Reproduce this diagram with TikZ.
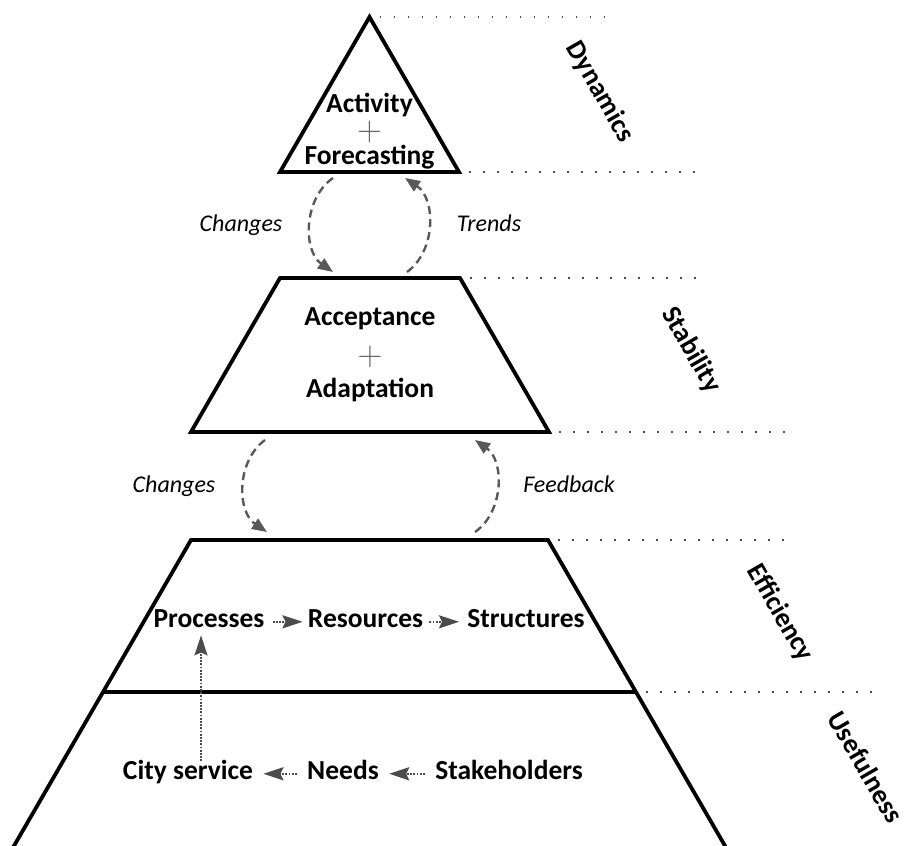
\documentclass[tikz,border=0pt]{standalone}
\usepackage{fontspec}
\setmainfont{Carlito}
\usetikzlibrary{arrows.meta}

\tikzset{
  layer/.style={line width=1.9pt, line join=miter},
  term/.style={font=\bfseries\fontsize{13.75}{16}\selectfont, anchor=base, inner sep=0pt,
    text height=0.72em, text depth=0.2em},
  plus/.style={text=black!60, font=\fontsize{16}{18}\selectfont},
  flowlabel/.style={font=\itshape\fontsize{12}{14}\selectfont, anchor=base, inner sep=0pt},
  level/.style={font=\bfseries\fontsize{13.75}{16}\selectfont, rotate=-60},
  guide/.style={black!70, line width=0.9pt, dash pattern=on 0.9pt off 6.1pt},
  turn/.style={black!65, line width=1.2pt, dash pattern=on 4pt off 2.5pt,
    -{Triangle[length=7.5pt,width=6pt]}},
  link/.style={black!70, line width=1.2pt, dash pattern=on 0.9pt off 0.7pt,
    -{Stealth[length=10pt,width=6.5pt,inset=1.5pt]}}
}

\begin{document}
\begin{tikzpicture}[x=0.5pt,y=-0.5pt]
\clip (0,0) rectangle (905,846);

% Layers of the pyramid
\draw[layer] (369.5,17) -- (459,172) -- (280,172) -- cycle;
\draw[layer] (280,278) -- (460,278) -- (549,432) -- (191,432) -- cycle;
\draw[layer] (11.6,850) -- (191,540) -- (548,540) -- (727.4,850);
\draw[line width=1.6pt] (103,692) -- (636,692);

% Dotted guides to the level names
\foreach \x/\y in {369.5/17,459/172,460/278,549/432,548/540,636/692} {
    \draw[guide] (\x+10,\y) -- ++(230,0);
}

% Level names
\node[level] (dyn) at (600,92) {Dynamics};
\node[level] (stab) at (691,350) {Stability};
\node[level] (eff) at (780,613) {Efficiency};
\node[level] (use) at (866,767) {Usefulness};

% Top layer
\node[term] (act) at (369.5,112) {Activity};
\node[plus] (p1) at (369.5,132) {$+$};
\node[term] (fore) at (369.5,164) {Forecasting};

% Second layer
\node[term] (acc) at (370,325) {Acceptance};
\node[plus] (p2) at (370,357) {$+$};
\node[term] (adapt) at (370,397) {Adaptation};

% Bottom layers
\node[term] (proc) at (209,627) {Processes};
\node[term] (res) at (365.5,627) {Resources};
\node[term] (struct) at (526,627) {Structures};
\node[term] (city) at (188,779) {City service};
\node[term] (needs) at (343,779) {Needs};
\node[term] (stake) at (509,779) {Stakeholders};

\draw[link, shorten <=4pt, shorten >=2.5pt] (proc) -- (res);
\draw[link, shorten <=3pt, shorten >=4pt] (res) -- (struct);
\draw[link, shorten <=5pt, shorten >=5pt] (needs) -- (city);
\draw[link, shorten <=5pt, shorten >=5pt] (stake) -- (needs);
\coordinate (rise) at (201,0);
\draw[link, shorten <=1.5pt, shorten >=2pt] (city.north -| rise) -- (proc.south -| rise);

% Loops between the layers
\coordinate (a1) at (333,178);
\coordinate (a2) at (333,272);
\coordinate (b1) at (407,272);
\coordinate (b2) at (405,178);
\coordinate (c1) at (265,440);
\coordinate (c2) at (267,532);
\coordinate (d1) at (475,532);
\coordinate (d2) at (475,440);
\draw[turn] (a1) to[bend right=55] (a2);
\draw[turn] (b1) to[bend right=55] (b2);
\draw[turn] (c1) to[bend right=55] (c2);
\draw[turn] (d1) to[bend right=55] (d2);

\node[flowlabel] (ch1) at (241,231) {Changes};
\node[flowlabel] (tr) at (489,231) {Trends};
\node[flowlabel] (ch2) at (174,492) {Changes};
\node[flowlabel] (fb) at (569,492) {Feedback};
\end{tikzpicture}
\end{document}
